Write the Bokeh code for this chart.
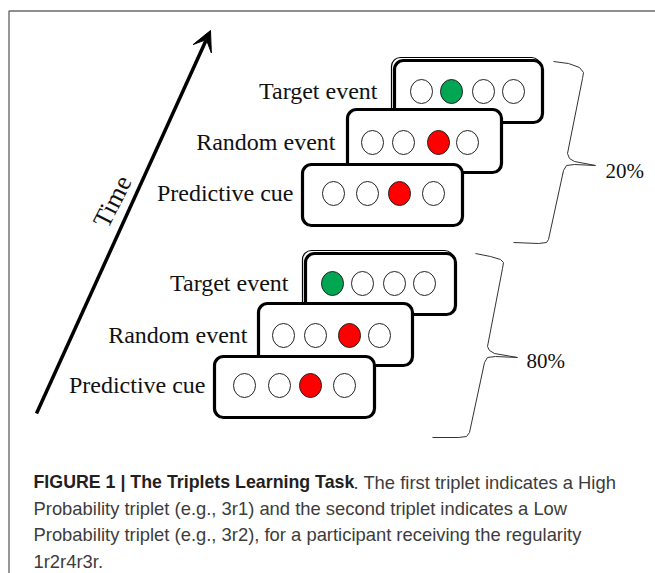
from bokeh.plotting import figure
from bokeh.models import Range1d, Arrow, VeeHead
from bokeh.core.properties import value
from bokeh.embed import file_html
from bokeh.resources import INLINE

# ---- data / layout lists ----
row_labels = ["Target event", "Random event", "Predictive cue",
              "Target event", "Random event", "Predictive cue"]
label_right = [377, 335, 293, 288, 247, 205]

box_left = [394, 347, 302, 305, 258, 214]
box_right = [542, 501, 462, 455, 412, 374]
box_top = [60, 109, 164, 253, 303, 356]
box_bottom = [122, 172, 225, 314, 365, 417]

circle_x = [[421, 451, 483, 513],
            [372, 403, 438, 467],
            [333, 367, 399, 433],
            [332, 362, 394, 424],
            [283, 315, 349, 379],
            [244, 279, 310, 344]]
circle_y = [91, 142, 193, 283, 335, 385]
active_pos = [1, 2, 2, 0, 2, 2]
active_color = ["#00a651", "#ff0000", "#ff0000", "#00a651", "#ff0000", "#ff0000"]

pct_labels = ["20%", "80%"]
pct_x = [605, 526]
pct_y = [170, 360]

brace_top_x = [553, 568, 579, 583, 582, 567, 569, 574, 595, 574, 566, 563, 548, 546, 538, 513]
brace_top_y = [61, 63, 67, 72, 78, 153, 158, 161, 165, 164, 165, 170, 239, 242, 243, 242]
brace_bot_x = [475, 490, 500, 503, 502, 487, 489, 494, 517, 495, 487, 484, 469, 466, 458, 432]
brace_bot_y = [253, 256, 259, 262, 268, 346, 350, 353, 357, 356, 357, 362, 432, 436, 437, 437]

arrow_start = (36, 413)
arrow_end = (210, 30)

caption_bold = "FIGURE 1 | The Triplets Learning Task"
caption_lines = [". The first triplet indicates a High",
                 "Probability triplet (e.g., 3r1) and the second triplet indicates a Low",
                 "Probability triplet (e.g., 3r2), for a participant receiving the regularity",
                 "1r2r4r3r."]
caption_x = [353, 33, 33, 33]
caption_mid = [481.5, 507.5, 534, 560.5]

W, H = 655, 573
p = figure(width=W, height=H, output_backend="svg", toolbar_location=None,
           x_range=Range1d(0, W), y_range=Range1d(H, 0),
           min_border=0, outline_line_color=None)
p.xaxis.visible = False
p.yaxis.visible = False
p.grid.visible = False
p.background_fill_color = "white"
p.border_fill_color = "white"

# frame border (cropped figure panel)
p.line([8.5, 8.5, W], [H, 10.5, 10.5], line_color="#6b6b6b", line_width=1.4)

# time arrow
p.add_layout(Arrow(end=VeeHead(size=20, fill_color="black", line_color="black"),
                   x_start=arrow_start[0], y_start=arrow_start[1],
                   x_end=arrow_end[0], y_end=arrow_end[1],
                   line_width=3.5, line_color="black"))
serif = value("Liberation Serif")
p.text(x=[112], y=[201], text=["Time"], angle=1.1, text_align="center",
       text_baseline="middle", text_font=serif,
       text_font_size="26px", text_color="#111111")

for i in range(6):
    if i in (0, 3):
        # thin second outline on the target boxes
        p.quad(left=[box_left[i] - 3], right=[box_right[i] - 2],
               top=[box_top[i] - 3], bottom=[box_bottom[i] - 2],
               fill_color="white", line_color="black", line_width=1.2,
               border_radius=9)
    p.quad(left=[box_left[i]], right=[box_right[i]], top=[box_top[i]],
           bottom=[box_bottom[i]], fill_color="white", line_color="black",
           line_width=3.2, border_radius=9)
    cols = ["white"] * 4
    cols[active_pos[i]] = active_color[i]
    p.ellipse(x=circle_x[i], y=[circle_y[i]] * 4, width=22, height=24,
              fill_color=cols, line_color="#222222", line_width=1)

p.text(x=label_right, y=[cy - 1 for cy in circle_y], text=row_labels,
       text_align="right", text_baseline="middle", text_font=serif,
       text_font_size="24px", text_color="#111111")

# braces
p.line(brace_top_x, brace_top_y, line_color="#333333", line_width=1)
p.line(brace_bot_x, brace_bot_y, line_color="#333333", line_width=1)
p.text(x=pct_x, y=pct_y, text=pct_labels, text_align="left",
       text_baseline="middle", text_font=serif, text_font_size="21px",
       text_color="#111111")

# caption
p.text(x=[33], y=[caption_mid[0]], text=[caption_bold], text_align="left",
       text_baseline="middle", text_font=value("Liberation Sans"),
       text_font_style="bold", text_font_size="17.8px", text_color="#231f20")
p.text(x=caption_x, y=caption_mid, text=caption_lines, text_align="left",
       text_baseline="middle", text_font=value("Liberation Sans"),
       text_font_size="18.4px", text_color="#3c3c3c")

open("out.html", "w").write(file_html(p, INLINE))
